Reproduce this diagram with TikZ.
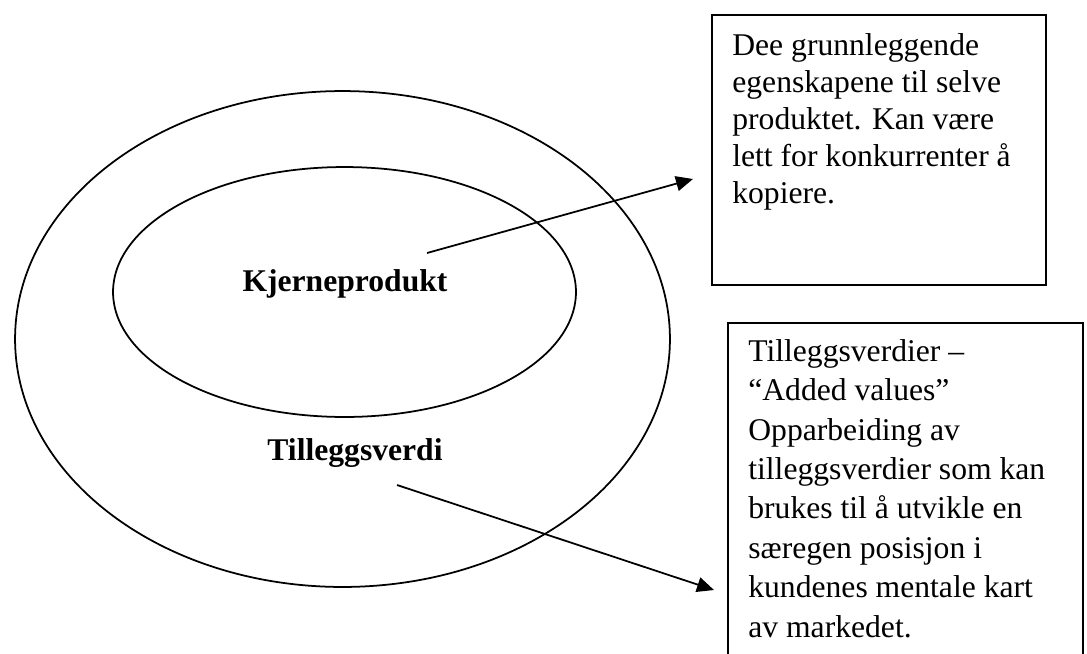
\documentclass[tikz,border=0pt]{standalone}
\usepackage{fontspec}
\setmainfont{Liberation Serif}
\usetikzlibrary{shapes.geometric,arrows.meta}

\begin{document}
\begin{tikzpicture}[x=0.02cm, y=-0.02cm,
  ring/.style={draw, ellipse, line width=1pt, inner sep=0pt},
  ringlabel/.style={anchor=base, font=\fontsize{18}{21}\selectfont\bfseries},
  infobox/.style={draw, rectangle, line width=1pt, inner sep=0pt, anchor=north west},
  infotext/.style={anchor=base west, align=left, inner sep=0pt},
  pointer/.style={-{Triangle[length=0.34cm,width=0.3cm]}, line width=1pt}]
\clip (0,0) rectangle (1087,653);

% the two rings
\node[ring, minimum width=13.1cm, minimum height=9.92cm] (outer) at (342.5,339) {};
\node[ring, minimum width=9.26cm, minimum height=5cm]    (inner) at (344.5,292) {};
\node[ringlabel] (kjerne)  at (345,291) {Kjerneprodukt};
\node[ringlabel] (tillegg) at (355,460) {Tilleggsverdi};

% boxes on the right (text placed by its last baseline)
\node[infobox, minimum width=6.68cm, minimum height=5.4cm]  (box1) at (711,14) {};
\node[infobox, minimum width=7.1cm,  minimum height=7.56cm] (box2) at (727,322) {};
\node[infotext, font=\fontsize{18}{21}\selectfont] (info1) at (732,203)
  {Dee grunnleggende\\egenskapene til selve\\produktet. Kan være\\lett for konkurrenter å\\kopiere.};
\node[infotext, font=\fontsize{18}{22.4}\selectfont] (info2) at (748,637)
  {Tilleggsverdier –\\“Added values”\\Opparbeiding av\\tilleggsverdier som kan\\brukes til å utvikle en\\særegen posisjon i\\kundenes mentale kart\\av markedet.};

% arrows
\coordinate (from1) at (427,253);
\coordinate (to1)   at (693,179);
\coordinate (from2) at (397,485);
\coordinate (to2)   at (714,590);
\draw[pointer] (from1) -- (to1);
\draw[pointer] (from2) -- (to2);
\end{tikzpicture}
\end{document}
